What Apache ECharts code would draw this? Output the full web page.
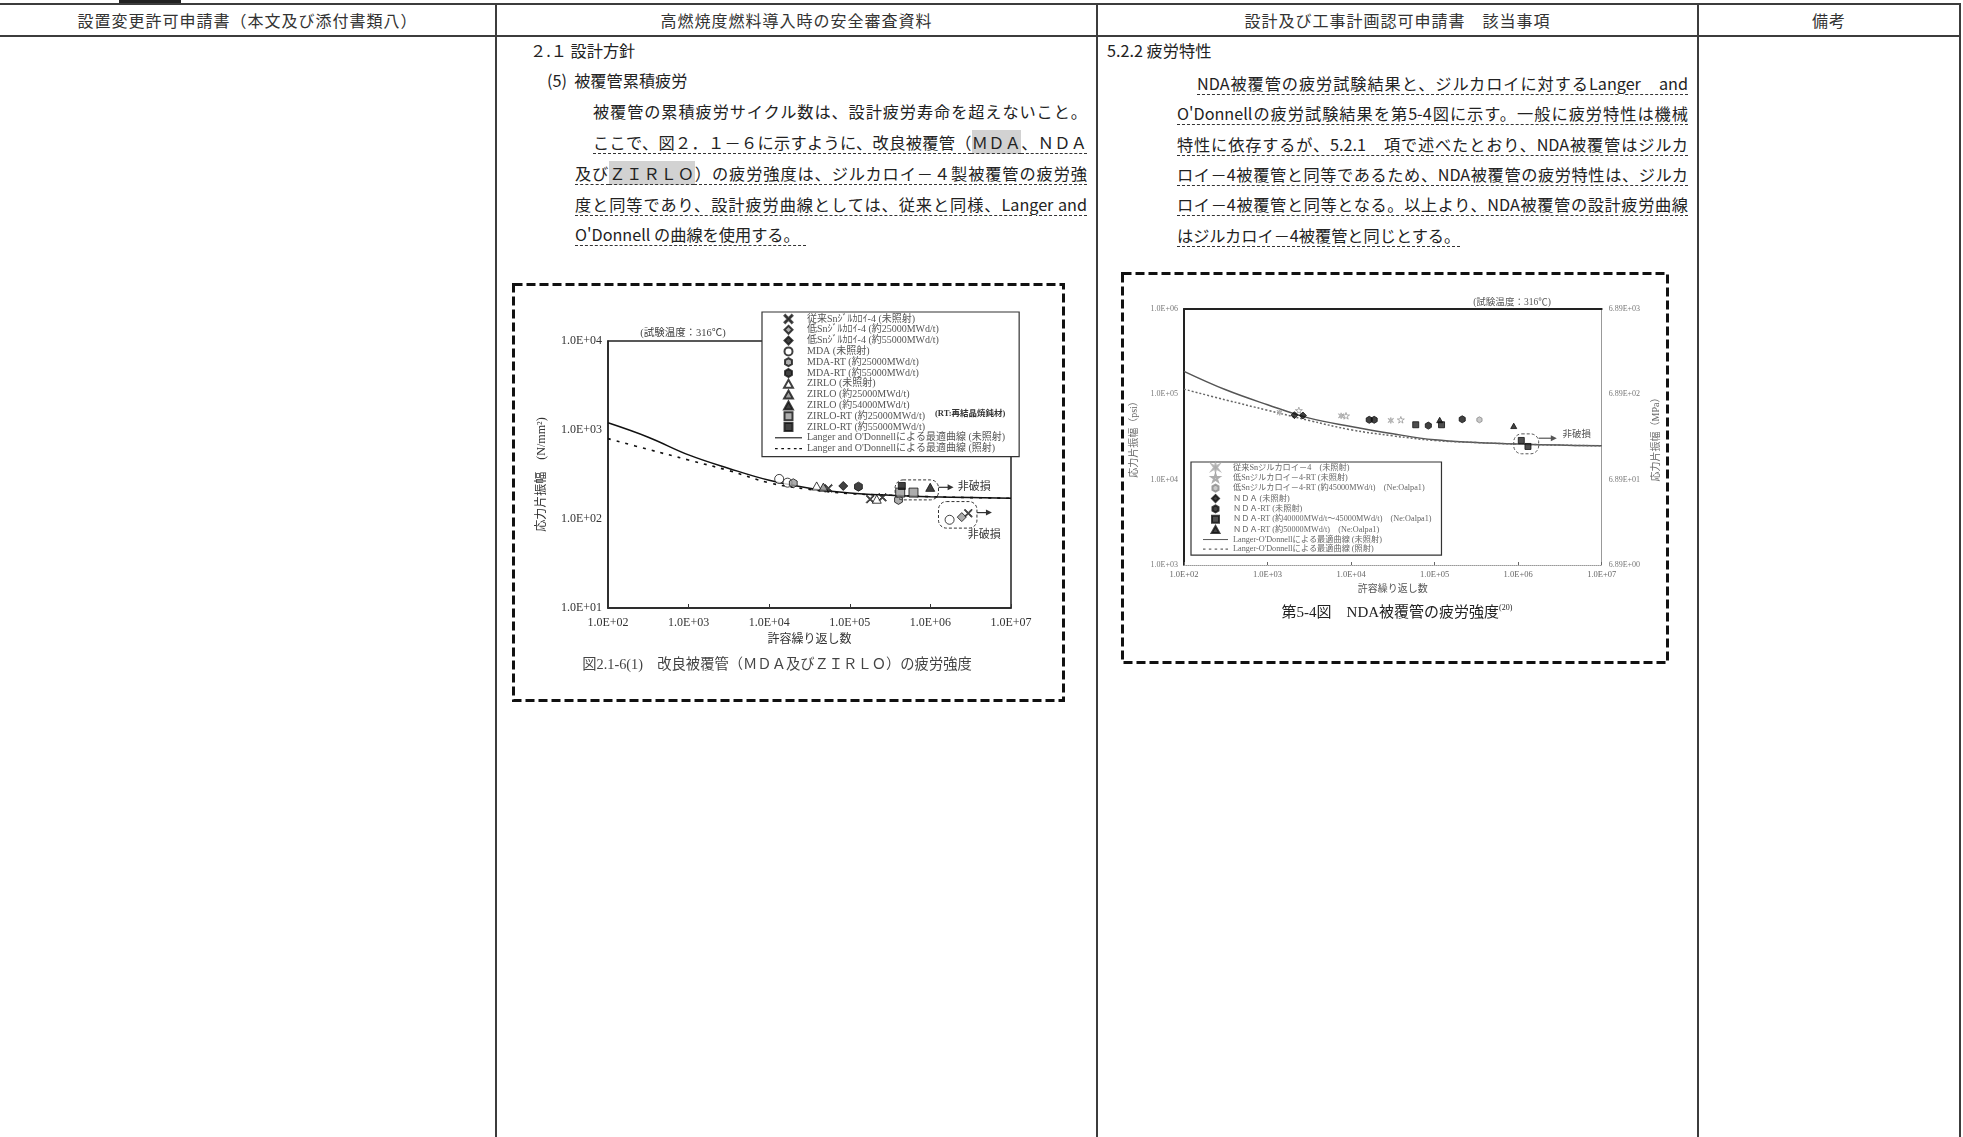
<!DOCTYPE html>
<html lang="ja">
<head>
<meta charset="utf-8">
<title>被覆管の疲労強度</title>
<script src="https://cdn.jsdelivr.net/npm/echarts@6.0.0/dist/echarts.min.js"></script>
<style>
  html, body { margin: 0; padding: 0; background: #fff; }
  #page { position: relative; width: 1963px; height: 1137px; overflow: hidden;
          font-family: "Noto Sans CJK JP", sans-serif; color: #222; }
  .rule { position: absolute; background: #3c3c3c; }
  .head { position: absolute; top: 10px; height: 20px; line-height: 20px; font-size: 16px;
          letter-spacing: 1px; text-align: center; color: #333; }
  .ln { position: absolute; height: 22px; line-height: 22px; font-size: 16.2px; }
  .j { text-align: justify; text-align-last: justify; }
  .u { text-decoration: underline dashed #333 1px; text-underline-offset: 4px; }
  .g { background: #d2d2d2; }
  #c1 { position: absolute; left: 512px; top: 283px; width: 553px; height: 419px; }
  #c2 { position: absolute; left: 1121px; top: 272px; width: 548px; height: 392px; }
</style>
</head>
<body>
<div id="page">
  <!-- table rules -->
  <div class="rule" style="left:119px;top:0;width:62px;height:3px;background:#222"></div>
  <div class="rule" style="left:0;top:3px;width:1961px;height:2px"></div>
  <div class="rule" style="left:0;top:35px;width:1961px;height:2px"></div>
  <div class="rule" style="left:495px;top:3px;width:2px;height:1134px"></div>
  <div class="rule" style="left:1096px;top:3px;width:2px;height:1134px"></div>
  <div class="rule" style="left:1697px;top:3px;width:2px;height:1134px"></div>
  <div class="rule" style="left:1959px;top:3px;width:2px;height:1134px"></div>

  <div class="head" style="left:0;width:495px">設置変更許可申請書（本文及び添付書類八）</div>
  <div class="head" style="left:497px;width:599px">高燃焼度燃料導入時の安全審査資料</div>
  <div class="head" style="left:1098px;width:599px">設計及び工事計画認可申請書　該当事項</div>
  <div class="head" style="left:1699px;width:260px">備考</div>

  <!-- column 2 -->
  <div class="ln" style="left:530px;top:39px">２.１ 設計方針</div>
  <div class="ln" style="left:547px;top:69px">(5)&nbsp;&nbsp;被覆管累積疲労</div>
  <div class="ln j" style="left:593px;top:100px;width:494px">被覆管の累積疲労サイクル数は、設計疲労寿命を超えないこと。</div>
  <div class="ln j u" style="left:593px;top:131px;width:494px">ここで、図２．１－６に示すように、改良被覆管（<span class="g">ＭＤＡ</span>、ＮＤＡ</div>
  <div class="ln j u" style="left:575px;top:162px;width:512px">及び<span class="g">ＺＩＲＬＯ</span>）の疲労強度は、ジルカロイ－４製被覆管の疲労強</div>
  <div class="ln j u" style="left:575px;top:193px;width:512px">度と同等であり、設計疲労曲線としては、従来と同様、Langer and</div>
  <div class="ln u" style="left:575px;top:223px">O'Donnell の曲線を使用する。&nbsp;&nbsp;</div>

  <!-- column 3 -->
  <div class="ln" style="left:1107px;top:39px">5.2.2 疲労特性</div>
  <div class="ln j u" style="left:1197px;top:72px;width:491px">NDA被覆管の疲労試験結果と、ジルカロイに対するLanger　and</div>
  <div class="ln j u" style="left:1177px;top:102px;width:511px">O'Donnellの疲労試験結果を第5-4図に示す。一般に疲労特性は機械</div>
  <div class="ln j u" style="left:1177px;top:133px;width:511px">特性に依存するが、5.2.1　項で述べたとおり、NDA被覆管はジルカ</div>
  <div class="ln j u" style="left:1177px;top:163px;width:511px">ロイ－4被覆管と同等であるため、NDA被覆管の疲労特性は、ジルカ</div>
  <div class="ln j u" style="left:1177px;top:193px;width:511px">ロイ－4被覆管と同等となる。以上より、NDA被覆管の設計疲労曲線</div>
  <div class="ln u" style="left:1177px;top:224px">はジルカロイ－4被覆管と同じとする。</div>

  <div id="c1"></div>
  <div id="c2"></div>
</div>

<script>
// ---- 図2.1-6(1) 改良被覆管（MDA及びZIRLO）の疲労強度 ----
const xTickLabels = ['1.0E+02', '1.0E+03', '1.0E+04', '1.0E+05', '1.0E+06', '1.0E+07'];
const yTickLabels1 = ['1.0E+01', '1.0E+02', '1.0E+03', '1.0E+04'];
const curveN1 = [100, 316, 1000, 3162, 10000, 31623, 100000, 316228, 1000000, 3162278, 10000000];
const curveUnirr1 = [1205, 830, 525, 370, 272, 222, 196, 185, 178, 174, 171];
const curveIrr1 = [800, 605, 460, 350, 255, 215, 193, 185, 178, 174, 171];

const snConv = [[54200, 221], [179000, 167], [254000, 175], [2950000, 116]];
const snLow25 = [[2450000, 105]];
const snLow55 = [[83000, 235]];
const mda = [[13300, 282], [16900, 256], [1730000, 98]];
const mdaRt25 = [[19900, 252], [402000, 164]];
const mdaRt55 = [[128000, 231]];
const zirlo = [[38800, 235], [216000, 167]];
const zirlo25 = [[47000, 228]];
const zirlo54 = [[995000, 227]];
const zirloRt25 = [[422000, 198], [617000, 198]];
const zirloRt55 = [[442000, 235]];

const names1 = [
  '従来Snｼﾞﾙｶﾛｲ-4 (未照射)', '低Snｼﾞﾙｶﾛｲ-4 (約25000MWd/t)', '低Snｼﾞﾙｶﾛｲ-4 (約55000MWd/t)',
  'MDA (未照射)', 'MDA-RT (約25000MWd/t)', 'MDA-RT (約55000MWd/t)',
  'ZIRLO (未照射)', 'ZIRLO (約25000MWd/t)', 'ZIRLO (約54000MWd/t)',
  'ZIRLO-RT (約25000MWd/t)', 'ZIRLO-RT (約55000MWd/t)',
  "Langer and O'Donnellによる最適曲線 (未照射)", "Langer and O'Donnellによる最適曲線 (照射)"
];

// runout (非破損) notes, data coords
const runBoxes1 = [[365000, 275, 1260000, 164], [1260000, 157, 3780000, 79]];
const runArrows1 = [[1260000, 1940000, 227], [3780000, 5800000, 118]];
const runLabels1 = [[3500000, 231], [4670000, 66]];

// ---- 第5-4図 NDA被覆管の疲労強度 ----
const yTickLabels2 = ['1.0E+03', '1.0E+04', '1.0E+05', '1.0E+06'];
const yTickLabelsMPa = ['6.89E+00', '6.89E+01', '6.89E+02', '6.89E+03'];
const curveN2 = [100, 316, 1000, 3162, 10000, 31623, 100000, 316228, 1000000, 3162278, 10000000];
const curveUnirr2 = [186000, 113000, 75500, 52600, 42000, 34500, 29300, 27300, 26100, 25400, 24900];
const curveIrr2 = [115000, 86000, 65000, 49400, 38400, 32600, 28800, 27200, 26100, 25400, 24900];

const ndaSnConv = [[1400, 61400], [7600, 56000], [29900, 49400]];
const ndaSnLowRt = [[2370, 64700], [8700, 56000], [39400, 50300]];
const ndaSnLowRt45 = [[344000, 50300]];
const nda = [[2100, 57000], [2650, 56500]];
const ndaRt = [[16500, 50300], [18900, 50300], [84100, 43000], [214000, 51000]];
const ndaRt4045 = [[59400, 44000], [121000, 44000], [1090000, 28800], [1310000, 24500]];
const ndaRt50 = [[115000, 50000], [885000, 42700]];

const names2 = [
  '従来Snジルカロイ－4　(未照射)', '低Snジルカロイ－4-RT (未照射)',
  '低Snジルカロイ－4-RT (約45000MWd/t)　(Ne:Oalpa1)', 'ＮＤＡ (未照射)', 'ＮＤＡ-RT (未照射)',
  'ＮＤＡ-RT (約40000MWd/t～45000MWd/t)　(Ne:Oalpa1)', 'ＮＤＡ-RT (約50000MWd/t)　(Ne:Oalpa1)',
  "Langer-O'Donnellによる最適曲線 (未照射)", "Langer-O'Donnellによる最適曲線 (照射)"
];

const runBoxes2 = [[885000, 34400, 1760000, 20100]];
const runArrows2 = [[1760000, 2900000, 30600]];
const runLabels2 = [[5030000, 33600]];

const FONT = '"Liberation Serif", "Noto Sans CJK JP", serif';
const SYM = {
  cross: 'path://M0,1L1,0L5,4L9,0L10,1L6,5L10,9L9,10L5,6L1,10L0,9L4,5Z',
  hex: 'path://M5,0L9.33,2.5L9.33,7.5L5,10L0.67,7.5L0.67,2.5Z',
  aster: 'path://M5,0L6,3.5L9.5,1.5L7,5L9.5,8.5L6,6.5L5,10L4,6.5L0.5,8.5L3,5L0.5,1.5L4,3.5Z',
  star: 'path://M5,0L6.2,3.6L10,3.6L6.9,5.8L8.1,9.5L5,7.2L1.9,9.5L3.1,5.8L0,3.6L3.8,3.6Z',
  diamond: 'path://M5,0L10,5L5,10L0,5Z',
  tri: 'path://M5,0L10,9L0,9Z',
  square: 'path://M0,0H10V10H0Z',
  solidIcon: 'path://M0,4.4H30V5.6H0Z',
  dashIcon: 'path://M0,4.3H3V5.7H0Z M7,4.3H10V5.7H7Z M14,4.3H17V5.7H14Z M21,4.3H24V5.7H21Z M27,4.3H30V5.7H27Z'
};

function expFmt(labels, first) {
  return v => labels[Math.round(Math.log10(v)) - first] || '';
}
function pts(name, data, symbol, fill, border, size) {
  return { name, type: 'scatter', data, symbol, symbolSize: size, symbolKeepAspect: true, z: 5,
           itemStyle: { color: fill, borderColor: border, borderWidth: 1 } };
}
function curve(name, xs, ys, color, type, width) {
  return { name, type: 'line', data: xs.map((x, i) => [x, ys[i]]), smooth: 0.4,
           showSymbol: false, symbol: 'none', z: 3,
           lineStyle: { color, type, width }, itemStyle: { color } };
}
function legendItems(names) {
  const n = names.length;
  return names.map((name, i) => i === n - 2 ? { name, icon: SYM.solidIcon }
                              : i === n - 1 ? { name, icon: SYM.dashIcon } : { name });
}
function notes(chart, boxes, arrows, labels, fontSize, color) {
  const out = [];
  boxes.forEach((b, i) => {
    const p1 = chart.convertToPixel({ seriesIndex: 0 }, [b[0], b[1]]);
    const p2 = chart.convertToPixel({ seriesIndex: 0 }, [b[2], b[3]]);
    out.push({ type: 'rect', id: 'box' + i, z: 20,
      shape: { x: p1[0], y: p1[1], width: p2[0] - p1[0], height: p2[1] - p1[1], r: 8 },
      style: { fill: 'none', stroke: color, lineWidth: 1, lineDash: [3, 2] } });
  });
  arrows.forEach((a, i) => {
    const p1 = chart.convertToPixel({ seriesIndex: 0 }, [a[0], a[2]]);
    const p2 = chart.convertToPixel({ seriesIndex: 0 }, [a[1], a[2]]);
    out.push({ type: 'line', id: 'arl' + i, z: 20,
      shape: { x1: p1[0], y1: p1[1], x2: p2[0] - 4, y2: p2[1] },
      style: { stroke: color, lineWidth: 1.2 } });
    out.push({ type: 'polygon', id: 'arh' + i, z: 20,
      shape: { points: [[p2[0], p2[1]], [p2[0] - 6, p2[1] - 3], [p2[0] - 6, p2[1] + 3]] },
      style: { fill: color } });
  });
  labels.forEach((l, i) => {
    const p = chart.convertToPixel({ seriesIndex: 0 }, l);
    out.push({ type: 'text', id: 'lab' + i, z: 20, x: p[0], y: p[1],
      style: { text: '非破損', fill: color, font: fontSize + 'px ' + FONT, align: 'center', verticalAlign: 'middle' } });
  });
  return out;
}

// ---------- chart 1 ----------
const chart1 = echarts.init(document.getElementById('c1'));
chart1.setOption({
  animation: false,
  grid: { left: 96, top: 58, width: 403, height: 267, show: true, borderColor: '#222', borderWidth: 1.5 },
  xAxis: {
    type: 'log', logBase: 10, min: 100, max: 10000000,
    axisLine: { lineStyle: { color: '#222', width: 1.5 } },
    axisTick: { show: true, inside: true, length: 4, lineStyle: { color: '#333' } },
    splitLine: { show: false }, minorTick: { show: false },
    axisLabel: { formatter: expFmt(xTickLabels, 2), color: '#333', fontSize: 12, fontFamily: FONT, margin: 9 },
    name: '許容繰り返し数', nameLocation: 'middle', nameGap: 23,
    nameTextStyle: { color: '#333', fontSize: 12, fontFamily: FONT }
  },
  yAxis: {
    type: 'log', logBase: 10, min: 10, max: 10000,
    axisLine: { show: true, lineStyle: { color: '#222', width: 1.5 } },
    axisTick: { show: false }, splitLine: { show: false },
    axisLabel: { formatter: expFmt(yTickLabels1, 1), color: '#333', fontSize: 12, fontFamily: FONT, margin: 6 },
    name: '応力片振幅　(N/mm²)', nameLocation: 'middle', nameGap: 60,
    nameTextStyle: { color: '#333', fontSize: 12, fontFamily: FONT }
  },
  legend: {
    orient: 'vertical', left: 250, top: 29, z: 10, selectedMode: false,
    itemWidth: 27, itemHeight: 8, itemGap: 0.8, padding: [2, 14, 3, 13],
    backgroundColor: '#fff', borderColor: '#333', borderWidth: 1.2,
    textStyle: { fontSize: 10, lineHeight: 9, color: '#555', fontFamily: FONT },
    data: legendItems(names1)
  },
  series: [
    pts(names1[0], snConv, SYM.cross, '#222', '#222', 8),
    pts(names1[1], snLow25, SYM.diamond, '#999', '#111', 9),
    pts(names1[2], snLow55, SYM.diamond, '#111', '#111', 9),
    pts(names1[3], mda, 'circle', '#fff', '#111', 9),
    pts(names1[4], mdaRt25, SYM.hex, '#999', '#111', 9),
    pts(names1[5], mdaRt55, SYM.hex, '#111', '#111', 9),
    pts(names1[6], zirlo, SYM.tri, '#fff', '#111', 9),
    pts(names1[7], zirlo25, SYM.tri, '#888', '#111', 9),
    pts(names1[8], zirlo54, SYM.tri, '#111', '#111', 9),
    pts(names1[9], zirloRt25, SYM.square, '#999', '#111', 9),
    pts(names1[10], zirloRt55, SYM.square, '#111', '#111', 7),
    curve(names1[11], curveN1, curveUnirr1, '#111', 'solid', 1.5),
    curve(names1[12], curveN1, curveIrr1, '#111', [3, 6], 1.6)
  ]
});
chart1.setOption({
  graphic: [
    { type: 'rect', id: 'frame', z: 30, shape: { x: 1.5, y: 1.5, width: 550, height: 416 },
      style: { fill: 'none', stroke: '#111', lineWidth: 3, lineDash: [9, 4] } },
    { type: 'text', id: 'temp', z: 30, x: 171, y: 50,
      style: { text: '(試験温度：316℃)', fill: '#444', font: '10.5px ' + FONT, align: 'center', verticalAlign: 'middle' } },
    { type: 'text', id: 'rt', z: 30, x: 423, y: 131,
      style: { text: '(RT:再結晶焼鈍材)', fill: '#333', font: 'bold 8.5px ' + FONT, align: 'left', verticalAlign: 'middle' } },
    { type: 'text', id: 'cap', z: 30, x: 265, y: 382,
      style: { text: '図2.1-6(1)　改良被覆管（ＭＤＡ及びＺＩＲＬＯ）の疲労強度', fill: '#444',
               font: '14.3px ' + FONT, align: 'center', verticalAlign: 'middle' } }
  ].concat(notes(chart1, runBoxes1, runArrows1, runLabels1, 11, '#333'))
});

// ---------- chart 2 ----------
const chart2 = echarts.init(document.getElementById('c2'));
const axisBase = { type: 'log', logBase: 10, min: 100, max: 10000000, splitLine: { show: false } };
chart2.setOption({
  animation: false,
  grid: { left: 63, top: 37, width: 419, height: 256 },
  xAxis: [
    Object.assign({}, axisBase, {
      position: 'bottom',
      axisLine: { lineStyle: { color: '#999', width: 1, type: 'dotted' } },
      axisTick: { show: true, inside: true, length: 3, lineStyle: { color: '#666' } },
      axisLabel: { formatter: expFmt(xTickLabels, 2), color: '#666', fontSize: 8.5, fontFamily: FONT, margin: 6 },
      name: '許容繰り返し数', nameLocation: 'middle', nameGap: 19,
      nameTextStyle: { color: '#555', fontSize: 10, fontFamily: FONT }
    }),
    Object.assign({}, axisBase, {
      position: 'top',
      axisLine: { lineStyle: { color: '#222', width: 2 } },
      axisTick: { show: false }, axisLabel: { show: false }
    })
  ],
  yAxis: [
    {
      type: 'log', logBase: 10, min: 1000, max: 1000000, position: 'left',
      axisLine: { show: true, lineStyle: { color: '#222', width: 2 } },
      axisTick: { show: false }, splitLine: { show: false },
      axisLabel: { formatter: expFmt(yTickLabels2, 3), color: '#777', fontSize: 8, fontFamily: FONT, margin: 6 },
      name: '応力片振幅（psi）', nameLocation: 'middle', nameGap: 34, nameRotate: 90,
      nameTextStyle: { color: '#666', fontSize: 10, fontFamily: FONT }
    },
    {
      type: 'log', logBase: 10, min: 1000, max: 1000000, position: 'right',
      axisLine: { show: true, lineStyle: { color: '#999', width: 1 } },
      axisTick: { show: false }, splitLine: { show: false },
      axisLabel: { formatter: expFmt(yTickLabelsMPa, 3), color: '#777', fontSize: 8, fontFamily: FONT, margin: 7 },
      name: '応力片振幅（MPa）', nameLocation: 'middle', nameGap: 44, nameRotate: 90,
      nameTextStyle: { color: '#666', fontSize: 10, fontFamily: FONT }
    }
  ],
  legend: {
    orient: 'vertical', left: 70, top: 190, z: 10, selectedMode: false,
    itemWidth: 25, itemHeight: 7, itemGap: 1.35, padding: [1, 10, 2, 12],
    backgroundColor: '#fff', borderColor: '#333', borderWidth: 1.2,
    textStyle: { fontSize: 8.2, lineHeight: 8, color: '#666', fontFamily: FONT },
    data: legendItems(names2)
  },
  series: [
    pts(names2[0], ndaSnConv, SYM.aster, '#aaa', '#aaa', 6),
    pts(names2[1], ndaSnLowRt, SYM.star, '#fff', '#999', 7),
    pts(names2[2], ndaSnLowRt45, SYM.hex, '#bbb', '#888', 6),
    pts(names2[3], nda, SYM.diamond, '#111', '#111', 7),
    pts(names2[4], ndaRt, SYM.hex, '#111', '#111', 7),
    pts(names2[5], ndaRt4045, SYM.square, '#222', '#111', 6),
    pts(names2[6], ndaRt50, SYM.tri, '#111', '#111', 6),
    curve(names2[7], curveN2, curveUnirr2, '#555', 'solid', 1.5),
    curve(names2[8], curveN2, curveIrr2, '#666', [2, 2], 1.5)
  ]
});
chart2.setOption({
  graphic: [
    { type: 'rect', id: 'frame', z: 30, shape: { x: 1.5, y: 1.5, width: 545, height: 389 },
      style: { fill: 'none', stroke: '#111', lineWidth: 3, lineDash: [9, 4] } },
    { type: 'text', id: 'temp', z: 30, x: 391, y: 30,
      style: { text: '(試験温度：316℃)', fill: '#555', font: '9.5px ' + FONT, align: 'center', verticalAlign: 'middle' } },
    { type: 'text', id: 'cap', z: 30, x: 276, y: 341,
      style: { text: '{a|第5-4図　NDA被覆管の疲労強度}{s|(20)}', align: 'center', verticalAlign: 'middle',
               rich: { a: { fontSize: 15, fontFamily: FONT, fill: '#222', lineHeight: 18 },
                       s: { fontSize: 8, fontFamily: FONT, fill: '#222', verticalAlign: 'top' } } } }
  ].concat(notes(chart2, runBoxes2, runArrows2, runLabels2, 9.5, '#555'))
});
</script>
</body>
</html>
